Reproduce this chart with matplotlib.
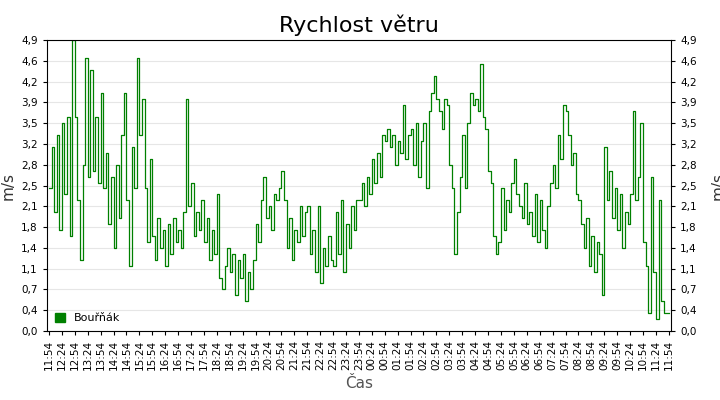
import matplotlib
matplotlib.use("Agg")
import matplotlib.pyplot as plt
from matplotlib.patches import Patch
import numpy as np

title = "Rychlost větru"
series_name = "Bouřňák"
hours = [
 [2.4, 3.1, 2.0, 3.3, 1.7, 3.5, 2.3, 3.6, 1.6, 4.9],
 [3.6, 2.2, 1.2, 2.8, 4.6, 2.6, 4.4, 2.7, 3.6, 2.5],
 [4.0, 2.4, 3.0, 1.8, 2.6, 1.4, 2.8, 1.9, 3.3, 4.0],
 [2.2, 1.1, 3.1, 2.4, 4.6, 3.3, 3.9, 2.4, 1.5, 2.9],
 [1.6, 1.2, 1.9, 1.4, 1.7, 1.1, 1.8, 1.3, 1.9, 1.5],
 [1.7, 1.4, 2.0, 3.9, 2.1, 2.5, 1.6, 2.0, 1.7, 2.2],
 [1.5, 1.9, 1.2, 1.7, 1.3, 2.3, 0.9, 0.7, 1.1, 1.4],
 [1.0, 1.3, 0.6, 1.2, 0.9, 1.3, 0.5, 1.0, 0.7, 1.2],
 [1.8, 1.5, 2.2, 2.6, 1.9, 2.1, 1.7, 2.3, 2.2, 2.4],
 [2.7, 2.2, 1.4, 1.9, 1.2, 1.7, 1.5, 2.1, 1.6, 2.0],
 [2.1, 1.3, 1.7, 1.0, 2.1, 0.8, 1.4, 1.1, 1.6, 1.2],
 [1.1, 2.0, 1.3, 2.2, 1.0, 1.8, 1.4, 2.1, 1.7, 2.2],
 [2.2, 2.5, 2.1, 2.6, 2.3, 2.9, 2.5, 3.0, 2.6, 3.3],
 [3.2, 3.4, 3.1, 3.3, 2.8, 3.2, 3.0, 3.8, 2.9, 3.3],
 [3.4, 2.8, 3.5, 2.6, 3.2, 3.5, 2.4, 3.7, 4.0, 4.3],
 [3.9, 3.7, 3.4, 3.9, 3.8, 2.8, 2.4, 1.3, 2.0, 2.6],
 [3.3, 2.4, 3.5, 4.0, 3.8, 3.9, 3.7, 4.5, 3.6, 3.4],
 [2.7, 2.5, 1.6, 1.3, 1.5, 2.4, 1.7, 2.2, 2.0, 2.5],
 [2.9, 2.3, 2.1, 1.9, 2.5, 1.8, 2.0, 1.6, 2.3, 1.5],
 [2.2, 1.7, 1.4, 2.1, 2.5, 2.8, 2.4, 3.3, 2.9, 3.8],
 [3.7, 3.3, 2.8, 3.0, 2.3, 2.2, 1.8, 1.4, 1.9, 1.1],
 [1.6, 1.0, 1.5, 1.3, 0.6, 3.1, 2.2, 2.7, 1.9, 2.4],
 [1.7, 2.3, 1.4, 2.0, 1.8, 2.3, 3.7, 2.2, 2.6, 3.5],
 [1.5, 1.1, 0.3, 2.6, 1.0, 0.2, 2.2, 0.5, 0.3, 0.3],
]
values = [v for h in hours for v in h] + [0.3]
ytick_labels = ["0,0", "0,4", "0,7", "1,1", "1,4", "1,8", "2,1", "2,5",
                "2,8", "3,2", "3,5", "3,9", "4,2", "4,6", "4,9"]

minutes = np.arange(len(values)) * 6
start = 11 * 60 + 54
xt = np.arange(0, 1441, 30)
xlabels = [f"{((start + m) // 60) % 24:02d}:{(start + m) % 60:02d}" for m in xt]

fig = plt.figure(figsize=(7.2, 4.0), dpi=100)
ax = fig.add_axes([0.065, 0.1725, 0.867, 0.7275])
ax.step(minutes, values, where="post", color="#008000", lw=0.9)
ax.set_xlim(-5, 1445)
ax.set_ylim(0, 4.9)
ax.set_yticks(np.arange(15) * 0.35)
ax.set_yticklabels(ytick_labels, fontsize=7.5)
ax.set_xticks(xt)
ax.set_xticklabels(xlabels, rotation=90, fontsize=7.5)
ax.tick_params(right=True, labelright=True, direction="out", length=3)
ax.grid(axis="y", color="#e6e6e6", lw=0.8)
ax.set_axisbelow(True)
ax.set_ylabel("m/s", fontsize=11, color="#333333")
ax.text(1.075, 0.5, "m/s", transform=ax.transAxes, rotation=90, fontsize=11,
        color="#333333", ha="center", va="center")
ax.set_xlabel("Čas", fontsize=11, color="#555555")
ax.set_title(title, fontsize=16)
ax.legend(handles=[Patch(color="#008000", label=series_name)], loc="lower left",
          frameon=False, fontsize=8, handlelength=0.9, handleheight=0.9, borderaxespad=0.3)
fig.savefig("out.png", dpi=100)
